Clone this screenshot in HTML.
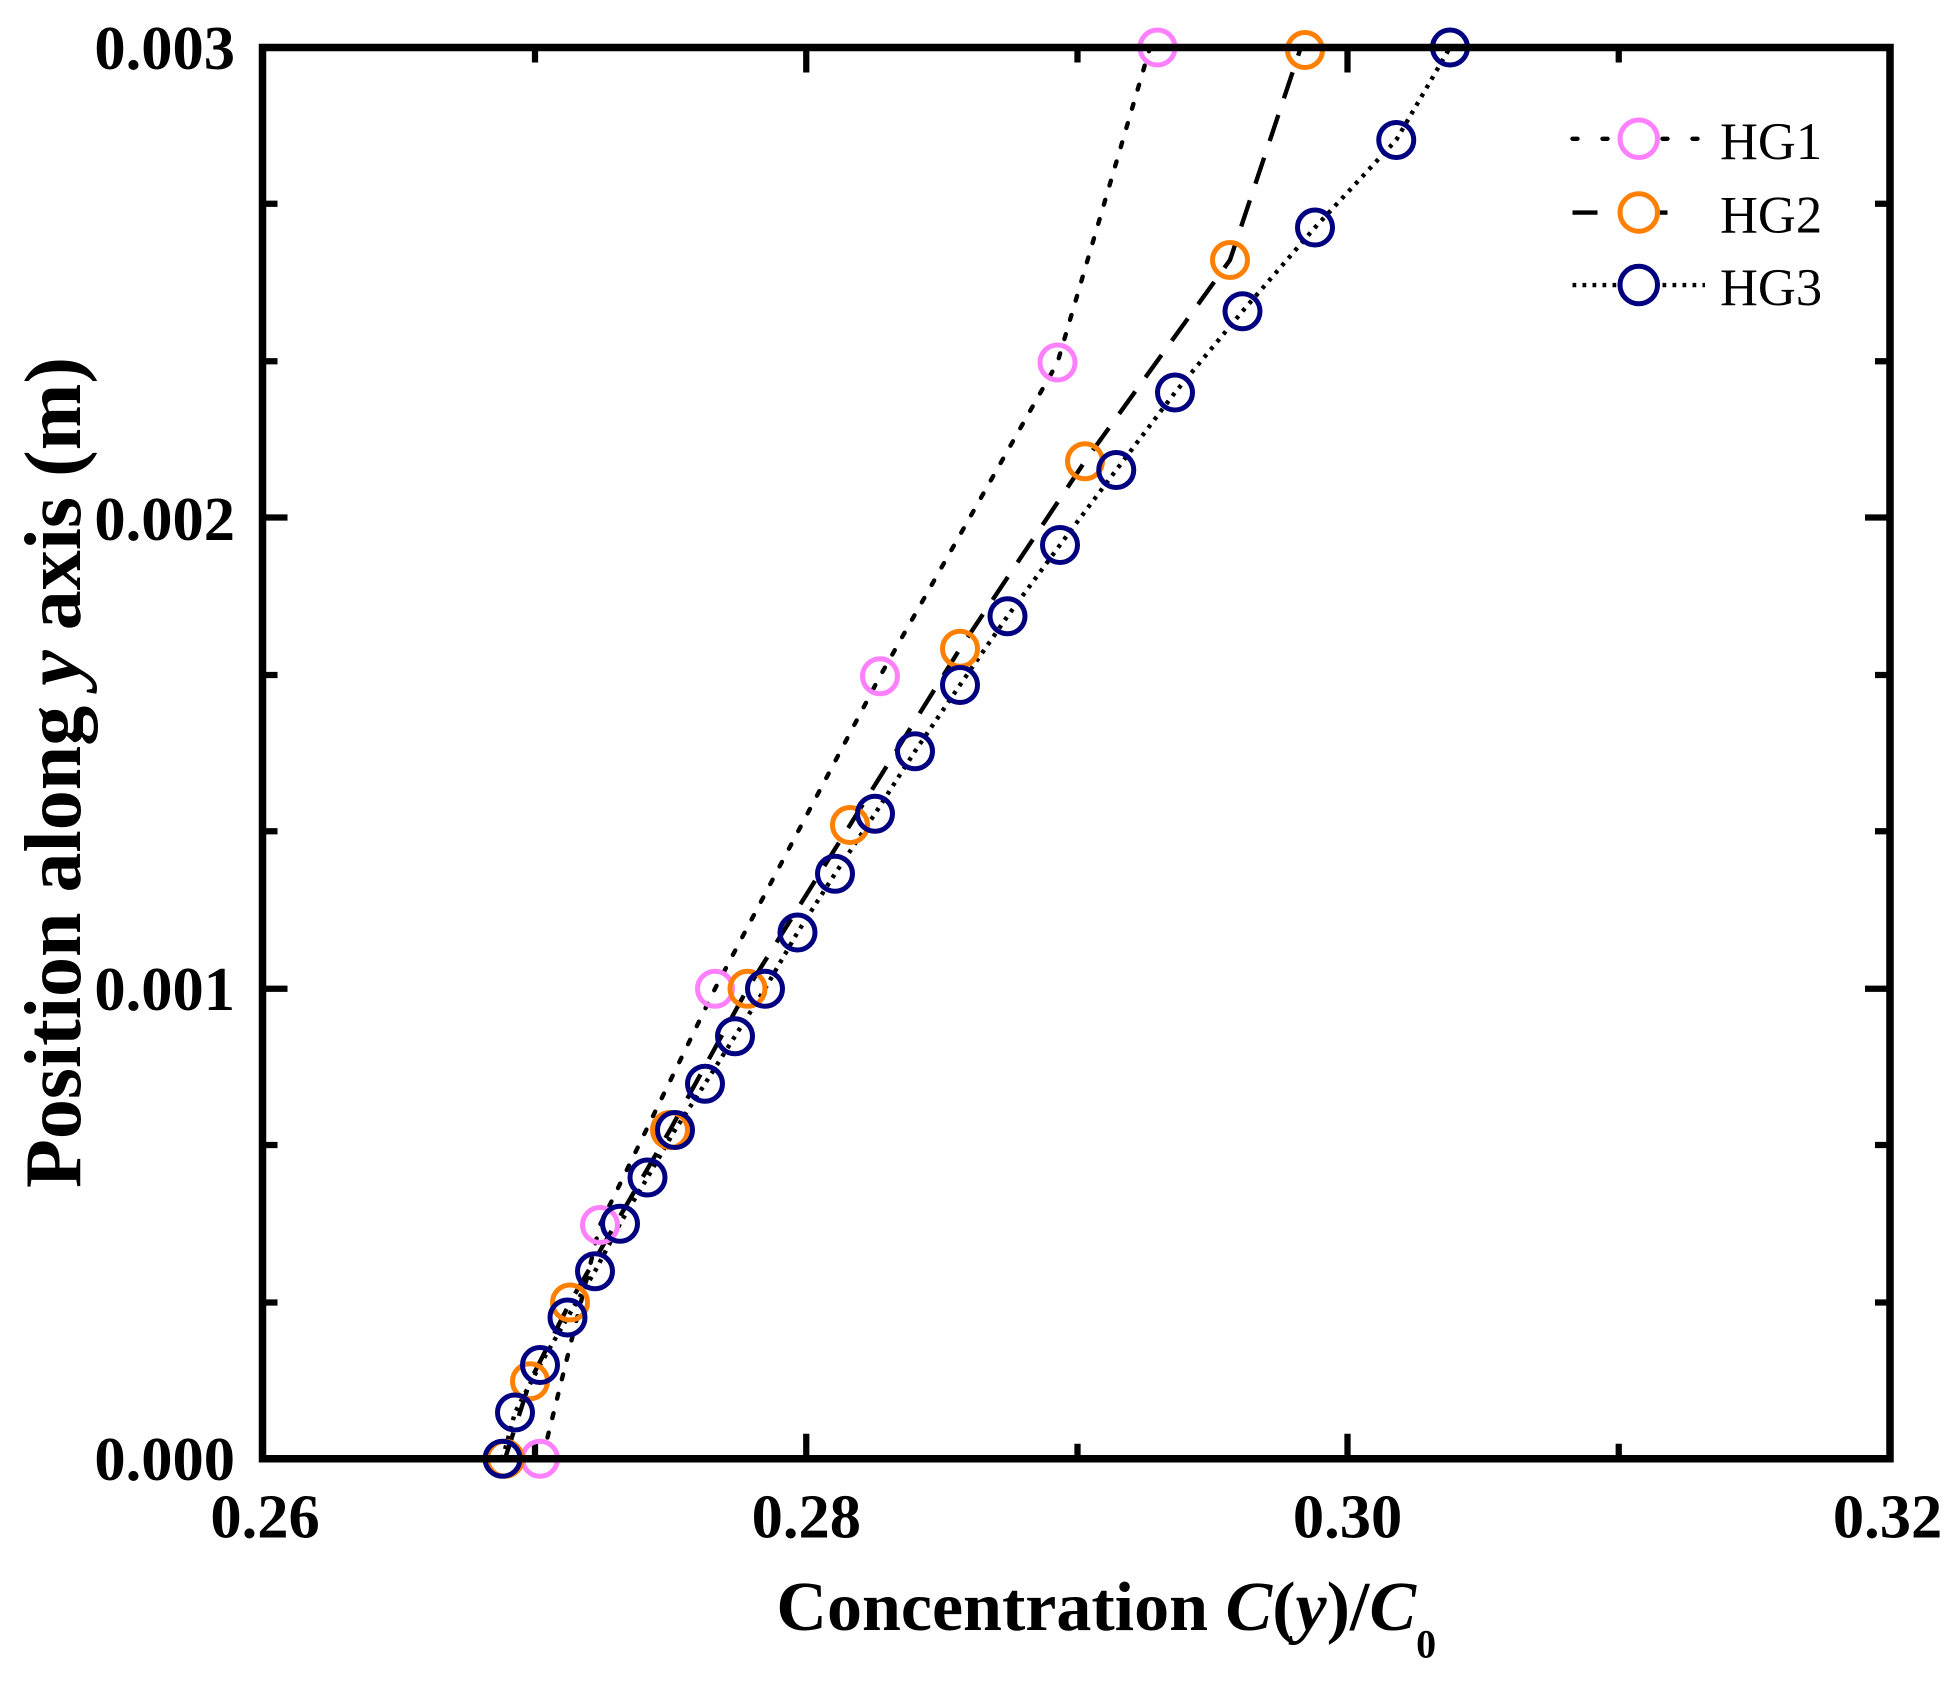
<!DOCTYPE html>
<html><head><meta charset="utf-8"><style>body{margin:0;background:#fff}</style></head><body>
<svg width="1960" height="1680" xmlns="http://www.w3.org/2000/svg" font-family="Liberation Serif, serif" font-weight="bold">
<rect width="1960" height="1680" fill="#fff"/>
<g transform="scale(1.25)">
<g stroke="#000" stroke-width="5">
<path d="M428,1167v-12M645,1167v-20M862,1167v-12M1078,1167v-20M1295,1167v-12"/>
<path d="M428,38v12M645,38v20M862,38v12M1078,38v20M1295,38v12"/>
<path d="M210,1042h12M210,916h12M210,791h20M210,665h12M210,540h12M210,414h20M210,289h12M210,163h12"/>
<path d="M1512,1042h-12M1512,916h-12M1512,791h-20M1512,665h-12M1512,540h-12M1512,414h-20M1512,289h-12M1512,163h-12"/>
</g>
<g fill="none" stroke="#000" stroke-width="3.5">
<polyline stroke-dasharray="4,12" stroke-linecap="round" points="438,1150 480,980 572,791 704,541 846,290 920,38"/>
<polyline stroke-dasharray="22,14" points="404,1167 424,1105 456,1042 536,904 598,791 680,660 768,519 868,369 984,208 1040,40"/>
<polyline stroke-dasharray="3,5" points="402,1167 412,1130 432,1092 454,1054 476,1017 496,979 518,942 540,904 564,867 588,829 612,791 638,746 668,699 700,651 732,601 768,548 806,493 848,436 893,376 940,314 994,249 1052,182 1117,112 1160,38"/>
</g>
<g fill="none" stroke-width="4">
<g stroke="#ff80ff">
<circle cx="432" cy="1167" r="14"/><circle cx="480" cy="980" r="14"/><circle cx="572" cy="791" r="14"/><circle cx="704" cy="541" r="14"/><circle cx="846" cy="290" r="14"/><circle cx="926" cy="38" r="14"/>
</g>
<g stroke="#ff8000">
<circle cx="404" cy="1167" r="14"/><circle cx="424" cy="1105" r="14"/><circle cx="456" cy="1042" r="14"/><circle cx="536" cy="904" r="14"/><circle cx="598" cy="791" r="14"/><circle cx="680" cy="660" r="14"/><circle cx="768" cy="519" r="14"/><circle cx="868" cy="369" r="14"/><circle cx="984" cy="208" r="14"/><circle cx="1044" cy="40" r="14"/>
</g>
<g stroke="#000080">
<circle cx="402" cy="1167" r="14"/><circle cx="412" cy="1130" r="14"/><circle cx="432" cy="1092" r="14"/><circle cx="454" cy="1054" r="14"/><circle cx="476" cy="1017" r="14"/><circle cx="496" cy="979" r="14"/><circle cx="518" cy="942" r="14"/><circle cx="540" cy="904" r="14"/><circle cx="564" cy="867" r="14"/><circle cx="588" cy="829" r="14"/><circle cx="612" cy="791" r="14"/><circle cx="638" cy="746" r="14"/><circle cx="668" cy="699" r="14"/><circle cx="700" cy="651" r="14"/><circle cx="732" cy="601" r="14"/><circle cx="768" cy="548" r="14"/><circle cx="806" cy="493" r="14"/><circle cx="848" cy="436" r="14"/><circle cx="893" cy="376" r="14"/><circle cx="940" cy="314" r="14"/><circle cx="994" cy="249" r="14"/><circle cx="1052" cy="182" r="14"/><circle cx="1117" cy="112" r="14"/><circle cx="1160" cy="38" r="14"/>
</g>
</g>
<rect x="210" y="38" width="1302" height="1129" fill="none" stroke="#000" stroke-width="6"/>
<g stroke="#000" stroke-width="3.5" fill="none">
<line x1="1258" y1="111" x2="1360" y2="111" stroke-dasharray="4,20" stroke-linecap="round"/>
<line x1="1258" y1="170" x2="1352" y2="170" stroke-dasharray="20,36"/>
<line x1="1258" y1="228" x2="1364" y2="228" stroke-dasharray="3,5"/>
</g>
<g fill="#fff" stroke-width="4">
<circle cx="1311" cy="111" r="15" stroke="#ff80ff"/>
<circle cx="1311" cy="170" r="15" stroke="#ff8000"/>
<circle cx="1311" cy="228" r="15" stroke="#000080"/>
</g>
<g font-weight="normal" font-size="42" fill="#000">
<text x="1376" y="127">HG1</text><text x="1376" y="186">HG2</text><text x="1376" y="244">HG3</text>
</g>
<g font-size="50" text-anchor="end">
<text x="188" y="55">0.003</text><text x="188" y="432">0.002</text><text x="188" y="808">0.001</text><text x="188" y="1184">0.000</text>
</g>
<g font-size="50" text-anchor="middle">
<text x="212" y="1230">0.26</text><text x="645" y="1230">0.28</text><text x="1078" y="1230">0.30</text><text x="1510" y="1230">0.32</text>
</g>
<text x="885" y="1304" font-size="56" text-anchor="middle">Concentration <tspan font-style="italic">C</tspan>(<tspan font-style="italic">y</tspan>)/<tspan font-style="italic">C</tspan><tspan font-size="32" dy="22">0</tspan></text>
<text transform="translate(64,618) rotate(-90)" font-size="64" text-anchor="middle">Position along <tspan font-style="italic">y</tspan> axis (m)</text>
</g>
</svg>
</body></html>
